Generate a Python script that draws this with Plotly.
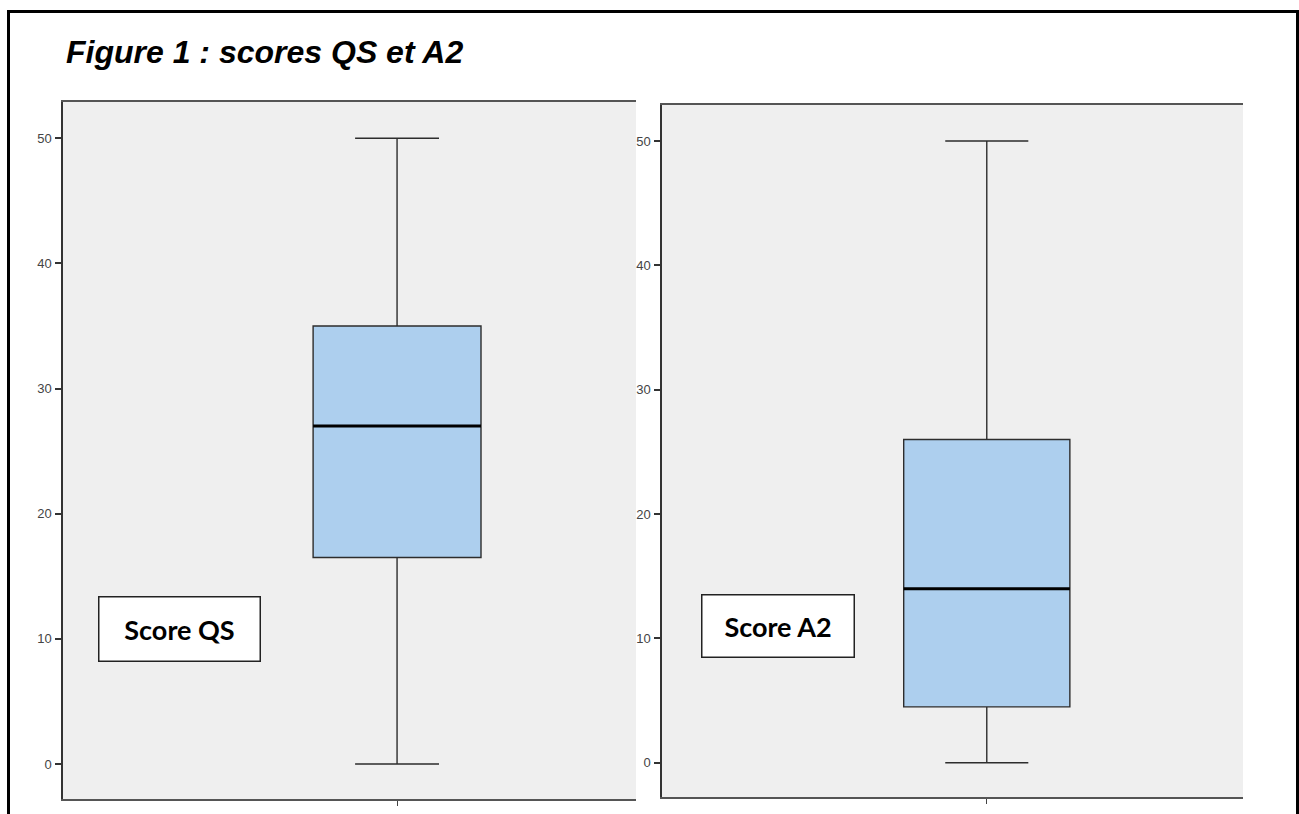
import plotly.graph_objects as go

# Five-number summaries of the two scores
panels = ["Score QS", "Score A2"]
q_min = [0, 0]
q1 = [16.5, 4.5]
median = [27, 14]
q3 = [35, 26]
q_max = [50, 50]

y_ticks = [0, 10, 20, 30, 40, 50]

W, H = 1299, 814

def px_x(p):
    return p / W

def px_y(p):
    return 1 - p / H

fig = go.Figure()

# panel geometry (pixels) and x ranges placing the box off-centre
x_dom = [(63, 636), (662, 1243)]
y_dom = [(102, 799), (105, 797)]
x_rng = [(-0.583, 0.417), (-0.559, 0.441)]
y_rng = [(-2.8, 52.9), (-2.75, 52.9)]
box_w = [0.293, 0.286]

box_fill = "rgb(173,207,238)"
edge = "rgb(45,45,45)"

for i in range(2):
    xa = "x" if i == 0 else "x2"
    ya = "y" if i == 0 else "y2"
    fig.add_trace(go.Box(
        x=[0], q1=[q1[i]], median=[median[i]], q3=[q3[i]],
        lowerfence=[q_min[i]], upperfence=[q_max[i]],
        width=box_w[i], whiskerwidth=0.5,
        fillcolor=box_fill, line=dict(color=edge, width=1.4),
        boxpoints=False, hoverinfo="skip", name=panels[i],
        xaxis=xa, yaxis=ya, showlegend=False,
    ))
    # heavier median bar
    fig.add_trace(go.Scatter(
        x=[-box_w[i] / 2, box_w[i] / 2], y=[median[i], median[i]],
        mode="lines", line=dict(color="black", width=3),
        hoverinfo="skip", showlegend=False, xaxis=xa, yaxis=ya,
    ))

tick_font = dict(family="Liberation Sans Narrow, Arial Narrow, Liberation Sans, sans-serif",
                 size=13, color="#444")

layout = dict(
    width=W, height=H,
    margin=dict(l=0, r=0, t=0, b=0),
    paper_bgcolor="white",
    plot_bgcolor="#efefef",
)

for i in range(2):
    sfx = "" if i == 0 else "2"
    layout["xaxis" + sfx] = dict(
        domain=[px_x(x_dom[i][0]), px_x(x_dom[i][1])],
        range=list(x_rng[i]), anchor="y" + sfx,
        showgrid=False, zeroline=False,
        showline=True, linecolor="#555", linewidth=2, mirror=True,
        tickvals=[0], ticktext=[""], ticks="outside", ticklen=5,
        tickcolor="#444", tickwidth=1,
    )
    layout["yaxis" + sfx] = dict(
        domain=[px_y(y_dom[i][1]), px_y(y_dom[i][0])],
        range=list(y_rng[i]), anchor="x" + sfx,
        showgrid=False, zeroline=False,
        showline=True, linecolor="#333", linewidth=1.5,
        tickvals=y_ticks, ticks="outside", ticklen=6, tickwidth=1.5,
        tickcolor="#333", tickfont=tick_font, ticklabelstandoff=1,
    )

fig.update_layout(**layout)

# outer frame
fig.add_shape(type="rect", xref="paper", yref="paper",
              x0=px_x(8.5), x1=px_x(1297.5), y0=px_y(830), y1=px_y(11.5),
              line=dict(color="black", width=3), fillcolor="rgba(0,0,0,0)",
              layer="above")

fig.add_annotation(
    text="<b><i>Figure 1 : scores QS et A2</i></b>",
    xref="paper", yref="paper", x=px_x(64), y=px_y(52),
    xanchor="left", yanchor="middle", showarrow=False,
    font=dict(family="Liberation Sans, Arial, sans-serif", size=32, color="black"),
)

# label boxes
label_pos = [(179, 628.5, 160, 63), (777.5, 625.5, 151, 61)]
for i in range(2):
    cx, cy, bw, bh = label_pos[i]
    fig.add_annotation(
        text="<b>" + panels[i] + "</b>",
        xref="paper", yref="paper", x=px_x(cx), y=px_y(cy),
        xanchor="center", yanchor="middle", showarrow=False,
        width=bw, height=bh, align="center", valign="middle",
        bgcolor="white", bordercolor="#222", borderwidth=1.5, borderpad=0,
        font=dict(family="Lato, Open Sans, sans-serif", size=27, color="black"),
    )

fig.write_html("out.html")
